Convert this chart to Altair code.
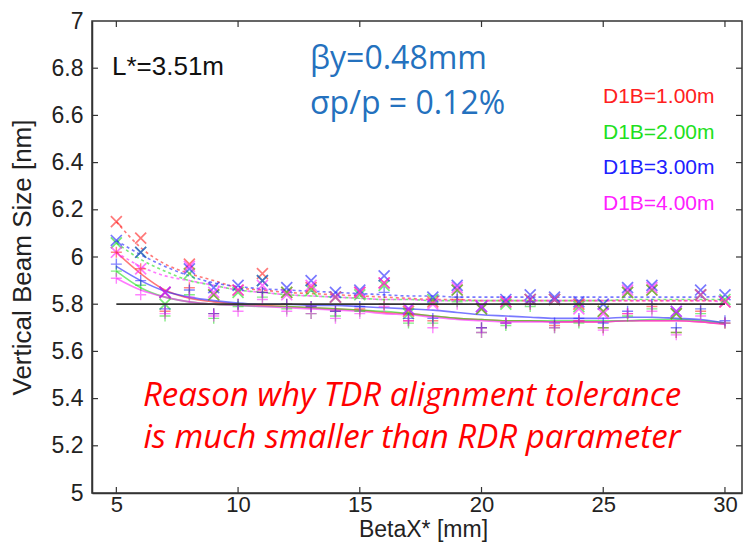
import altair as alt
import pandas as pd

# ---- data -------------------------------------------------------------
beta_x = list(range(5, 31))  # BetaX* [mm]

series_names = ["D1B=1.00m", "D1B=2.00m", "D1B=3.00m", "D1B=4.00m"]
series_colors = ["#ff2020", "#20e020", "#2020ff", "#ff20ff"]

# tracked beam size, first set (x markers)
cross_red = [6.15, 6.08, 5.85, 5.97, 5.84, 5.86, 5.93, 5.85, 5.87, 5.83, 5.85, 5.89, 5.77,
             5.81, 5.86, 5.78, 5.81, 5.82, 5.82, 5.80, 5.77, 5.85, 5.86, 5.76, 5.84, 5.81]
cross_green = [6.06, 6.02, 5.80, 5.93, 5.84, 5.85, 5.90, 5.85, 5.86, 5.83, 5.84, 5.88, 5.76,
               5.82, 5.86, 5.78, 5.80, 5.82, 5.82, 5.79, 5.77, 5.85, 5.86, 5.76, 5.84, 5.82]
cross_blue = [6.07, 6.02, 5.85, 5.95, 5.87, 5.88, 5.90, 5.87, 5.90, 5.85, 5.86, 5.92, 5.78,
              5.83, 5.88, 5.79, 5.82, 5.84, 5.83, 5.81, 5.80, 5.87, 5.88, 5.77, 5.86, 5.84]
cross_magenta = [6.02, 5.95, 5.85, 5.96, 5.85, 5.86, 5.88, 5.84, 5.88, 5.83, 5.85, 5.89, 5.78,
                 5.80, 5.87, 5.79, 5.81, 5.82, 5.82, 5.78, 5.76, 5.86, 5.87, 5.77, 5.84, 5.81]

# tracked beam size, second set (+ markers)
plus_red = [6.02, 5.95, 5.77, 5.87, 5.76, 5.80, 5.85, 5.80, 5.79, 5.77, 5.78, 5.80, 5.73,
            5.73, 5.82, 5.70, 5.72, 5.80, 5.71, 5.73, 5.70, 5.76, 5.79, 5.68, 5.77, 5.72]
plus_green = [5.94, 5.88, 5.75, 5.84, 5.74, 5.79, 5.83, 5.78, 5.76, 5.75, 5.77, 5.80, 5.72,
              5.72, 5.81, 5.68, 5.71, 5.79, 5.70, 5.72, 5.70, 5.75, 5.78, 5.68, 5.76, 5.72]
plus_blue = [5.97, 5.90, 5.78, 5.86, 5.76, 5.80, 5.85, 5.80, 5.79, 5.77, 5.79, 5.85, 5.74,
             5.74, 5.83, 5.70, 5.72, 5.81, 5.72, 5.74, 5.72, 5.77, 5.80, 5.70, 5.78, 5.73]
plus_magenta = [5.91, 5.84, 5.76, 5.83, 5.75, 5.77, 5.82, 5.77, 5.76, 5.74, 5.76, 5.79, 5.73,
                5.70, 5.80, 5.68, 5.72, 5.80, 5.70, 5.73, 5.69, 5.76, 5.77, 5.67, 5.75, 5.72]

# smooth fits through the first set (dotted)
fit_cross_red = [6.15, 6.04, 5.97, 5.93, 5.90, 5.87, 5.86, 5.85, 5.845, 5.84, 5.835, 5.83, 5.825,
                 5.82, 5.82, 5.815, 5.815, 5.815, 5.815, 5.815, 5.815, 5.815, 5.815, 5.815, 5.815, 5.815]
fit_cross_green = [6.06, 5.99, 5.94, 5.90, 5.88, 5.86, 5.85, 5.84, 5.835, 5.83, 5.825, 5.82, 5.82,
                   5.815, 5.815, 5.815, 5.815, 5.815, 5.815, 5.815, 5.815, 5.82, 5.82, 5.82, 5.82, 5.82]
fit_cross_blue = [6.07, 6.01, 5.96, 5.92, 5.89, 5.875, 5.865, 5.86, 5.855, 5.85, 5.845, 5.84, 5.835,
                  5.835, 5.83, 5.83, 5.83, 5.83, 5.83, 5.83, 5.83, 5.83, 5.83, 5.83, 5.83, 5.835]
fit_cross_magenta = [6.02, 5.96, 5.92, 5.90, 5.88, 5.86, 5.85, 5.84, 5.835, 5.83, 5.825, 5.82, 5.82,
                     5.815, 5.815, 5.815, 5.815, 5.815, 5.815, 5.815, 5.815, 5.815, 5.815, 5.815, 5.815, 5.81]

# smooth fits through the second set (solid)
fit_plus_red = [6.02, 5.93, 5.86, 5.825, 5.81, 5.80, 5.795, 5.79, 5.785, 5.78, 5.775, 5.765, 5.76,
                5.75, 5.74, 5.735, 5.73, 5.73, 5.725, 5.725, 5.725, 5.73, 5.73, 5.73, 5.725, 5.715]
fit_plus_green = [5.94, 5.87, 5.83, 5.81, 5.80, 5.795, 5.79, 5.79, 5.785, 5.78, 5.775, 5.77, 5.76,
                  5.75, 5.74, 5.735, 5.73, 5.73, 5.73, 5.73, 5.73, 5.73, 5.735, 5.735, 5.73, 5.72]
fit_plus_blue = [5.96, 5.90, 5.855, 5.83, 5.815, 5.805, 5.80, 5.80, 5.795, 5.795, 5.79, 5.785, 5.78,
                 5.775, 5.765, 5.755, 5.75, 5.745, 5.74, 5.74, 5.74, 5.745, 5.745, 5.74, 5.735, 5.72]
fit_plus_magenta = [5.91, 5.86, 5.83, 5.81, 5.80, 5.795, 5.79, 5.785, 5.78, 5.775, 5.77, 5.76, 5.755,
                    5.745, 5.735, 5.73, 5.725, 5.725, 5.725, 5.725, 5.725, 5.73, 5.73, 5.73, 5.725, 5.715]

reference_level = 5.8   # horizontal reference line
reference_span = [5, 30]

x_ticks = [5, 10, 15, 20, 25, 30]
y_ticks = [5.0, 5.2, 5.4, 5.6, 5.8, 6.0, 6.2, 6.4, 6.6, 6.8, 7.0]

# ---- tables -----------------------------------------------------------
def long_table(columns):
    rows = []
    for name, values in zip(series_names, columns):
        for bx, v in zip(beta_x, values):
            rows.append({"betax": bx, "size": v, "series": name})
    return pd.DataFrame(rows)

cross_df = long_table([cross_red, cross_green, cross_blue, cross_magenta])
plus_df = long_table([plus_red, plus_green, plus_blue, plus_magenta])
fit_cross_df = long_table([fit_cross_red, fit_cross_green, fit_cross_blue, fit_cross_magenta])
fit_plus_df = long_table([fit_plus_red, fit_plus_green, fit_plus_blue, fit_plus_magenta])

W, H = 650, 472
FONT = "Liberation Sans"
AXIS_COLOR = "#333333"

x_scale = alt.Scale(domain=[4, 30.7], nice=False, zero=False)
y_scale = alt.Scale(domain=[5, 7], nice=False, zero=False)
color = alt.Color("series:N", scale=alt.Scale(domain=series_names, range=series_colors), legend=None)

x_enc = alt.X("betax:Q", scale=x_scale,
              axis=alt.Axis(values=x_ticks, title="BetaX* [mm]", ticks=False, grid=False,
                            labelFontSize=22, labelPadding=1, titleFontSize=23,
                            titleFontWeight="normal", titleY=36, titleX=331,
                            titleBaseline="middle", format="~g"))
y_enc = alt.Y("size:Q", scale=y_scale,
              axis=alt.Axis(values=y_ticks, title="Vertical Beam Size [nm]", ticks=False, grid=False,
                            labelFontSize=23, labelPadding=9, titleFontSize=26,
                            titleFontWeight="normal", titleX=-70, titleY=H / 2,
                            titleBaseline="middle", format="~g"))

X_PATH = "M-1,-1L1,1M-1,1L1,-1"
PLUS_PATH = "M-1,0L1,0M0,-1L0,1"

fit_cross = alt.Chart(fit_cross_df).mark_line(
    strokeDash=[3, 3], strokeWidth=1.6, opacity=0.6, interpolate="monotone"
).encode(x=x_enc, y=y_enc, color=color, detail="series:N")

fit_plus = alt.Chart(fit_plus_df).mark_line(
    strokeWidth=1.6, opacity=0.6, interpolate="monotone"
).encode(x="betax:Q", y="size:Q", color=color, detail="series:N")

cross_pts = alt.Chart(cross_df).mark_point(
    shape=X_PATH, size=120, strokeWidth=1.7, filled=False, opacity=0.6
).encode(x="betax:Q", y="size:Q", color=color)

plus_pts = alt.Chart(plus_df).mark_point(
    shape=PLUS_PATH, size=120, strokeWidth=1.4, filled=False, opacity=0.55
).encode(x="betax:Q", y="size:Q", color=color)

ref_df = pd.DataFrame({"x0": [reference_span[0]], "x1": [reference_span[1]], "y": [reference_level]})
ref_line = alt.Chart(ref_df).mark_rule(color="#333333", strokeWidth=1.8).encode(
    x="x0:Q", x2="x1:Q", y="y:Q")

# inward tick marks on all four sides of the frame
xt_df = pd.DataFrame({"t": x_ticks})
yt_df = pd.DataFrame({"t": y_ticks[1:-1]})
tick_style = dict(color=AXIS_COLOR, strokeWidth=1.2)
ticks_bottom = alt.Chart(xt_df).mark_rule(**tick_style).encode(
    x="t:Q", y=alt.value(H), y2=alt.value(H - 6))
ticks_top = alt.Chart(xt_df).mark_rule(**tick_style).encode(
    x="t:Q", y=alt.value(0), y2=alt.value(6))
ticks_left = alt.Chart(yt_df).mark_rule(**tick_style).encode(
    y="t:Q", x=alt.value(0), x2=alt.value(6))
ticks_right = alt.Chart(yt_df).mark_rule(**tick_style).encode(
    y="t:Q", x=alt.value(W - 6), x2=alt.value(W))

# annotations
def label(text, x, y, align="left", **kw):
    return alt.Chart(pd.DataFrame({"t": [text]})).mark_text(
        align=align, baseline="middle", **kw
    ).encode(text="t:N", x=alt.value(x), y=alt.value(y))

ann = [
    label("L*=3.51m", 20, 46, font=FONT, fontSize=26, color="#111111"),
    label("βy=0.48mm", 218, 38, font="Open Sans", fontSize=32, color="#2471be"),
    label("σp/p = 0.12%", 218, 83, font="Open Sans", fontSize=32, color="#2471be"),
]
for i, (name, col) in enumerate(zip(series_names, series_colors)):
    ann.append(label(name, 511, 76 + 35.5 * i, font=FONT, fontSize=21, color=col))

italic = dict(font="Open Sans", fontStyle="italic", fontSize=33, color="#ff0000")
ann.append(label("Reason why TDR alignment tolerance", 320, 375, align="center", **italic))
ann.append(label("is much smaller than RDR parameter", 320, 417, align="center", **italic))

chart = alt.layer(
    fit_cross, fit_plus, cross_pts, plus_pts, ref_line,
    ticks_bottom, ticks_top, ticks_left, ticks_right, *ann
).properties(
    width=W, height=H,
    autosize=alt.AutoSizeParams(type="none"),
    padding={"left": 92, "top": 21, "right": 2, "bottom": 49},
    background="white",
).configure_view(
    stroke=AXIS_COLOR, strokeWidth=1.5
).configure_axis(
    domainColor=AXIS_COLOR, domainWidth=1.5, labelFont=FONT, titleFont=FONT,
    labelColor="#222222", titleColor="#222222"
)

chart.save("out.html", embed_options={"renderer": "svg", "actions": False})
